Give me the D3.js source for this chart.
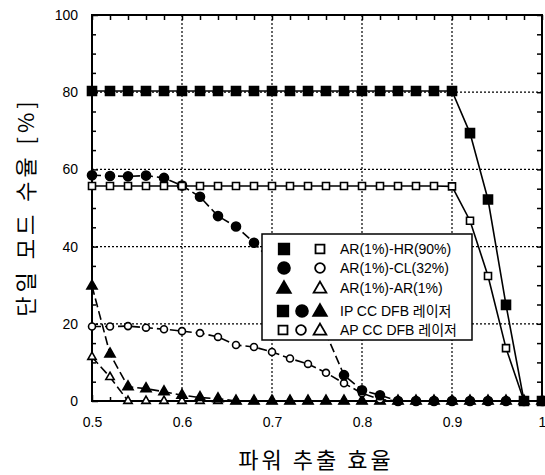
<!DOCTYPE html>
<html><head><meta charset="utf-8">
<script src="https://cdn.jsdelivr.net/npm/d3@7/dist/d3.min.js"></script>
<style>
body{margin:0;background:#fff;}
svg text{font-family:"Liberation Sans",Arial,"Noto Sans CJK KR",sans-serif;fill:#000;}
</style></head>
<body><svg id="c" width="545" height="475"></svg>
<script>
const xValues = [0.50,0.52,0.54,0.56,0.58,0.60,0.62,0.64,0.66,0.68,0.70,0.72,0.74,0.76,0.78,0.80,0.82,0.84,0.86,0.88,0.90,0.92,0.94,0.96,0.98,1.00];
const ipHR = [80.3,80.3,80.3,80.3,80.3,80.3,80.3,80.3,80.3,80.3,80.3,80.3,80.3,80.3,80.3,80.3,80.3,80.3,80.3,80.3,80.3,69.4,52.2,24.9,0,0];
const apHR = [55.7,55.7,55.7,55.7,55.7,55.7,55.7,55.7,55.7,55.7,55.7,55.7,55.7,55.7,55.7,55.7,55.7,55.7,55.7,55.7,55.6,46.7,32.4,13.7,0,0];
const ipCL = [58.5,58.3,58.2,58.4,57.8,55.8,52.9,47.9,45.2,41.0,36.0,31.0,25.0,17.5,6.7,2.8,1.5,0,0,0,0,0,0,0,0,0];
const apCL = [19.3,19.3,19.4,19.0,18.6,18.1,17.6,16.6,14.5,14.0,12.7,11.0,9.6,7.3,4.6,2.0,0.4,0,0,0,0,0,0,0,0,0];
const ipAR = [29.8,12.2,3.7,3.2,2.4,1.5,0.9,0.6,0,0,0,0,0,0,0,0,0,0,0,0,0,0,0,0,0,0];
const apAR = [11.4,6.2,0,0,0,0,0,0,0,0,0,0,0,0,0,0,0,0,0,0,0,0,0,0,0,0];
const xTicks = [0.5,0.6,0.7,0.8,0.9,1];
const xTickLabels = ["0.5","0.6","0.7","0.8","0.9","1"];
const yTicks = [0,20,40,60,80,100];
const legendLabels = ["AR(1%)-HR(90%)","AR(1%)-CL(32%)","AR(1%)-AR(1%)","IP CC DFB 레이저","AP CC DFB 레이저"];
const xTitle = "파워 추출 효율";
const yTitle = "단일 모드 수율 [%]";

const svg = d3.select("#c");
const L=92, R=542, T=15, B=401;
const x = d3.scaleLinear().domain([0.5,1]).range([L,R]);
const y = d3.scaleLinear().domain([0,100]).range([B,T]);

// grid
const g = svg.append("g");
g.selectAll("line.gx").data(xTicks.filter(v=>v>0.5&&v<1)).enter().append("line")
 .attr("x1",d=>x(d)).attr("x2",d=>x(d)).attr("y1",T).attr("y2",B)
 .attr("stroke","#000").attr("stroke-width",1.2).attr("stroke-dasharray","2,2");
g.selectAll("line.gy").data(yTicks.filter(v=>v>0&&v<100)).enter().append("line")
 .attr("y1",d=>y(d)).attr("y2",d=>y(d)).attr("x1",L).attr("x2",R)
 .attr("stroke","#000").attr("stroke-width",1.2).attr("stroke-dasharray","2,2");

// axes with inward ticks
const xMinor = d3.range(0.52,1.0,0.02).filter(v=>Math.abs(v*10-Math.round(v*10))>0.01);
const yMinor = d3.range(5,100,5).filter(v=>v%20!==0);
function axes(){
  svg.append("g").attr("transform",`translate(0,${B})`)
    .call(d3.axisBottom(x).tickValues(xTicks).tickFormat((d,i)=>xTickLabels[i]).tickSizeInner(-6).tickSizeOuter(0).tickPadding(16))
    .call(a=>{a.select(".domain").remove();a.selectAll("text").attr("font-size",14).attr("fill","#000");a.selectAll("line").attr("stroke","#000").attr("stroke-width",1.5);});
  svg.append("g").attr("transform",`translate(0,${B})`)
    .call(d3.axisBottom(x).tickValues(xMinor).tickFormat("").tickSizeInner(-4).tickSizeOuter(0))
    .call(a=>{a.select(".domain").remove();a.selectAll("line").attr("stroke","#000").attr("stroke-width",1.5);});
  svg.append("g").attr("transform",`translate(0,${T})`)
    .call(d3.axisTop(x).tickValues(xTicks.concat(xMinor)).tickFormat("").tickSizeInner(-5).tickSizeOuter(0))
    .call(a=>{a.select(".domain").remove();a.selectAll("line").attr("stroke","#000").attr("stroke-width",1.5);});
  svg.append("g").attr("transform",`translate(${L},0)`)
    .call(d3.axisLeft(y).tickValues(yTicks).tickSizeInner(-6).tickSizeOuter(0).tickPadding(14))
    .call(a=>{a.select(".domain").remove();a.selectAll("text").attr("font-size",14).attr("fill","#000");a.selectAll("line").attr("stroke","#000").attr("stroke-width",1.5);});
  svg.append("g").attr("transform",`translate(${L},0)`)
    .call(d3.axisLeft(y).tickValues(yMinor).tickFormat("").tickSizeInner(-4).tickSizeOuter(0))
    .call(a=>{a.select(".domain").remove();a.selectAll("line").attr("stroke","#000").attr("stroke-width",1.5);});
  svg.append("g").attr("transform",`translate(${R},0)`)
    .call(d3.axisRight(y).tickValues(yTicks.concat(yMinor)).tickFormat("").tickSizeInner(-5).tickSizeOuter(0))
    .call(a=>{a.select(".domain").remove();a.selectAll("line").attr("stroke","#000").attr("stroke-width",1.5);});
  svg.append("rect").attr("x",L).attr("y",T).attr("width",R-L).attr("height",B-T)
    .attr("fill","none").attr("stroke","#000").attr("stroke-width",2);
}
axes();

const series = [
  {v:apAR, sym:d3.symbolTriangle, size:30, fill:"#fff", dash:"9,4"},
  {v:ipAR, sym:d3.symbolTriangle, size:45, fill:"#000", dash:"9,4"},
  {v:apCL, sym:d3.symbolCircle, size:38, fill:"#fff", dash:"9,4"},
  {v:ipCL, sym:d3.symbolCircle, size:64, fill:"#000", dash:"9,4"},
  {v:apHR, sym:d3.symbolSquare, size:49, fill:"#fff", dash:null},
  {v:ipHR, sym:d3.symbolSquare, size:81, fill:"#000", dash:null}
];
const line = d3.line().x(d=>x(d[0])).y(d=>y(d[1]));
series.forEach(s=>{
  const pts = xValues.map((xv,i)=>[xv,s.v[i]]);
  svg.append("path").attr("d",line(pts)).attr("fill","none").attr("stroke","#000")
    .attr("stroke-width",1.6).attr("stroke-dasharray",s.dash);
});
series.forEach(s=>{
  const pts = xValues.map((xv,i)=>[xv,s.v[i]]);
  svg.append("g").selectAll("path").data(pts).enter().append("path")
    .attr("d",d3.symbol().type(s.sym).size(s.size))
    .attr("transform",d=>`translate(${x(d[0])},${y(d[1])})`)
    .attr("fill",s.fill).attr("stroke","#000").attr("stroke-width",1.6);
});

// legend
const lg = svg.append("g");
lg.append("rect").attr("x",262).attr("y",234).attr("width",210).attr("height",106)
  .attr("fill","#fff").attr("stroke","#000").attr("stroke-width",1.5);
const rowsY=[249,268,288,311,330];
function sym(t,sz,fill,cx,cy){
  lg.append("path").attr("d",d3.symbol().type(t).size(sz)())
    .attr("transform",`translate(${cx},${cy})`).attr("fill",fill).attr("stroke","#000").attr("stroke-width",1.8);
}
sym(d3.symbolSquare,110,"#000",284,rowsY[0]); sym(d3.symbolSquare,80,"#fff",320,rowsY[0]);
sym(d3.symbolCircle,110,"#000",284,rowsY[1]); sym(d3.symbolCircle,75,"#fff",320,rowsY[1]);
sym(d3.symbolTriangle,80,"#000",284,rowsY[2]+1); sym(d3.symbolTriangle,70,"#fff",320,rowsY[2]+1);
sym(d3.symbolSquare,110,"#000",283,rowsY[3]); sym(d3.symbolCircle,110,"#000",302,rowsY[3]); sym(d3.symbolTriangle,80,"#000",320,rowsY[3]+1);
sym(d3.symbolSquare,80,"#fff",283,rowsY[4]); sym(d3.symbolCircle,75,"#fff",301,rowsY[4]); sym(d3.symbolTriangle,70,"#fff",320,rowsY[4]+1);
lg.selectAll("text").data(legendLabels).enter().append("text")
  .attr("x",340).attr("y",(d,i)=>rowsY[i]).attr("dy","0.35em").attr("font-size",14).text(d=>d);

// titles
svg.append("text").attr("x",316).attr("y",462).attr("text-anchor","middle").attr("dominant-baseline","middle")
  .attr("font-size",22).attr("letter-spacing",3).style("font-family","'Noto Sans CJK KR',sans-serif").text(xTitle);
svg.append("text").attr("transform","translate(28,207) rotate(-90)").attr("text-anchor","middle").attr("dominant-baseline","middle")
  .attr("font-size",22).attr("letter-spacing",4).style("font-family","'Noto Sans CJK KR',sans-serif").text(yTitle);
</script></body></html>
